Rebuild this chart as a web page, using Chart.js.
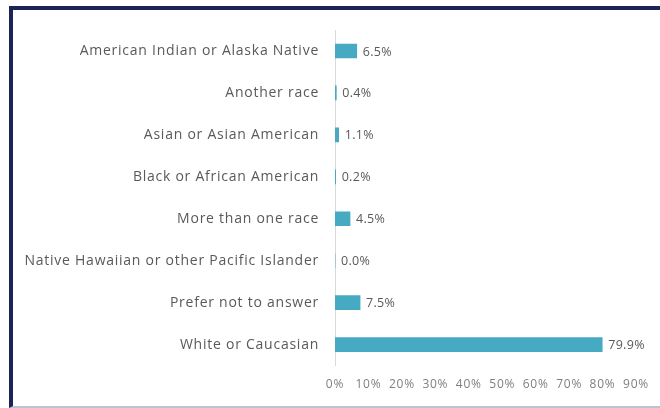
<!DOCTYPE html>
<html>
<head>
<meta charset="UTF-8">
<script src="https://cdn.jsdelivr.net/npm/chart.js@4/dist/chart.umd.min.js"></script>
<style>
  html, body { margin: 0; padding: 0; background: #fff; }
  body { width: 660px; height: 408px; position: relative; overflow: hidden; }
  .frame {
    position: absolute; left: 9px; top: 6px; width: 700px; height: 396px;
    border-left: 4px solid #1c2457; border-top: 4px solid #1c2457;
    border-bottom: 2px solid #b9c3d3;
  }
  .box { position: absolute; left: 0; top: 0; width: 660px; height: 408px; }
</style>
</head>
<body>
<div class="frame"></div>
<div class="box"><canvas id="c"></canvas></div>
<script>
// Kategorien und Werte (Prozent)
const categories = [
  'American Indian or Alaska Native',
  'Another race',
  'Asian or Asian American',
  'Black or African American',
  'More than one race',
  'Native Hawaiian or other Pacific Islander',
  'Prefer not to answer',
  'White or Caucasian'
];
const shares = [6.5, 0.4, 1.1, 0.2, 4.5, 0.0, 7.5, 79.9];
const xTicks = [0, 10, 20, 30, 40, 50, 60, 70, 80, 90];

const FONT = "'Open Sans', sans-serif";

// etwas breitere Laufweite fuer die Achsenbeschriftung
const spacing = {
  id: 'spacing',
  beforeDraw(chart) { chart.ctx.letterSpacing = '0.75px'; },
  beforeDatasetsDraw(chart) { chart.ctx.letterSpacing = '0px'; }
};

// Wertbeschriftung rechts neben dem Balken
const valueLabels = {
  id: 'valueLabels',
  afterDatasetsDraw(chart) {
    const ctx = chart.ctx;
    const meta = chart.getDatasetMeta(0);
    ctx.save();
    ctx.font = '12.5px ' + FONT;
    ctx.letterSpacing = '0.3px';
    ctx.fillStyle = '#595959';
    ctx.textBaseline = 'middle';
    meta.data.forEach((bar, i) => {
      ctx.fillText(shares[i].toFixed(1) + '%', bar.x + 6, bar.y + 1);
    });
    ctx.restore();
  }
};

new Chart(document.getElementById('c'), {
  type: 'bar',
  plugins: [spacing, valueLabels],
  data: {
    labels: categories,
    datasets: [{
      data: shares,
      backgroundColor: '#46abc2',
      barThickness: 14,
      borderWidth: 0
    }]
  },
  options: {
    indexAxis: 'y',
    responsive: true,
    maintainAspectRatio: false,
    animation: false,
    layout: { padding: { top: 30, right: 24, bottom: 4, left: 0 } },
    plugins: { legend: { display: false }, tooltip: { enabled: false } },
    scales: {
      x: {
        min: 0, max: 90,
        afterBuildTicks: (s) => { s.ticks = xTicks.map(v => ({ value: v })); },
        grid: { display: false, drawTicks: false },
        border: { display: false },
        ticks: {
          padding: 12,
          color: '#7f7f7f',
          font: { family: FONT, size: 12 },
          maxRotation: 0,
          autoSkip: false,
          callback: (v) => v + '%'
        }
      },
      y: {
        afterFit: (s) => { s.width = 335; },
        grid: { display: false, drawTicks: false },
        border: { display: true, color: '#d9d9d9', width: 1 },
        ticks: {
          padding: 16,
          color: '#595959',
          font: { family: FONT, size: 14 }
        }
      }
    }
  }
});
</script>
</body>
</html>
